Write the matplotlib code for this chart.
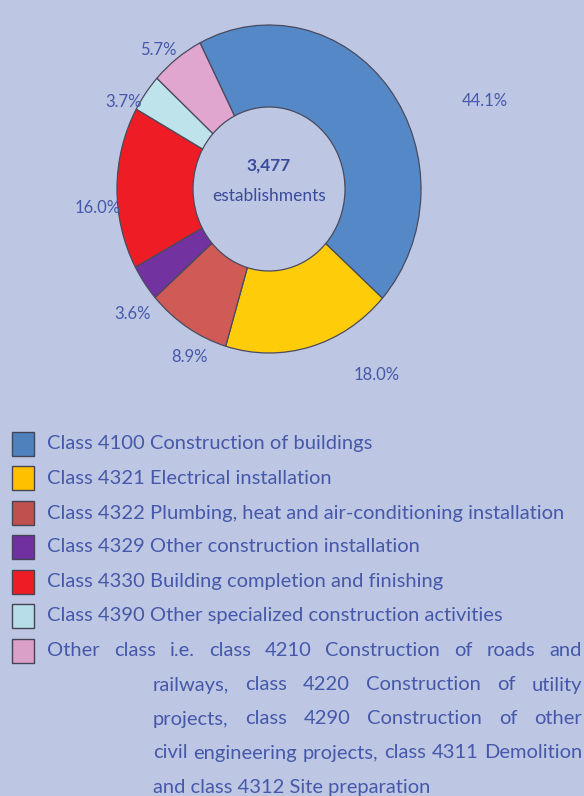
import matplotlib
matplotlib.use("Agg")
import matplotlib.pyplot as plt
from matplotlib.patches import Rectangle

shares = [44.1, 18.0, 8.9, 3.6, 16.0, 3.7, 5.7]
pct_labels = ["44.1%", "18.0%", "8.9%", "3.6%", "16.0%", "3.7%", "5.7%"]
colors = ["#5588c6", "#ffcc0a", "#d05a56", "#7232a0", "#ee1c24", "#bfe3ea", "#e0a6d0"]
legend_colors = ["#4f81bd", "#ffc000", "#c0504d", "#7030a0", "#ee1c24", "#b7dde8", "#dba0c8"]
legend_labels = [
    "Class 4100 Construction of buildings",
    "Class 4321 Electrical installation",
    "Class 4322 Plumbing, heat and air-conditioning installation",
    "Class 4329 Other construction installation",
    "Class 4330 Building completion and finishing",
    "Class 4390 Other specialized construction activities",
    "Other class i.e. class 4210 Construction of roads and",
]
other_lines = [
    "railways, class 4220 Construction of utility",
    "projects, class 4290 Construction of other",
    "civil engineering projects, class 4311 Demolition",
    "and class 4312 Site preparation",
]
total = "3,477"

bg = "#bdc7e3"
txt = "#4658aa"
W, H = 584, 796

fig = plt.figure(figsize=(W / 100, H / 100), dpi=100, facecolor=bg)
plt.rcParams["font.family"] = ["Lato", "DejaVu Sans"]

# donut, pixel box of the ring
ax = fig.add_axes([117 / W, 1 - 353 / H, 304 / W, 328 / H])
ax.set_facecolor(bg)
ax.axis("off")
wedges, _ = ax.pie(shares, colors=colors, startangle=117, counterclock=False,
                   radius=1, wedgeprops=dict(width=0.5, edgecolor="#4a4a5e", linewidth=0.9))
ax.set_xlim(-1, 1)
ax.set_ylim(-1, 1)
ax.set_aspect("auto")

# percent label spots in pixels
label_px = [(485, 101), (377, 375), (189, 357), (133, 314), (98, 208), (124, 102), (158, 50)]
for lab, (px, py) in zip(pct_labels, label_px):
    fig.text(px / W, 1 - py / H, lab, color=txt, fontsize=12, ha="center", va="center")

fig.text(269 / W, 1 - 166 / H, total, color="#3a4a9c", fontsize=12.5, ha="center",
         va="center", fontweight="bold")
fig.text(269 / W, 1 - 196 / H, "establishments", color="#3a4a9c", fontsize=12.5,
         ha="center", va="center")

fs = 14.5
renderer = fig.canvas.get_renderer()


def justified(line, x0, x1, y):
    # spread words so the line fills x0..x1 (pixels)
    words = line.split()
    items = [fig.text(0, 1 - y / H, w, color=txt, fontsize=fs, ha="left", va="center")
             for w in words]
    widths = [t.get_window_extent(renderer).width for t in items]
    gap = (x1 - x0 - sum(widths)) / (len(words) - 1)
    x = x0
    for t, w in zip(items, widths):
        t.set_x(x / W)
        x += w + gap


# legend
row_y = [444, 478, 513, 547, 582, 616, 651]
for k, (c, lab, y) in enumerate(zip(legend_colors, legend_labels, row_y)):
    fig.patches.append(Rectangle((12 / W, 1 - (y + 12) / H), 22 / W, 24 / H,
                                 transform=fig.transFigure, facecolor=c,
                                 edgecolor="#444455", linewidth=1))
    if k == len(legend_labels) - 1:
        justified(lab, 47, 582, y)
    else:
        fig.text(47 / W, 1 - y / H, lab, color=txt, fontsize=fs, ha="left", va="center")

for i, line in enumerate(other_lines):
    y = 685 + i * 34
    if i < len(other_lines) - 1:
        justified(line, 153, 582, y)
    else:
        fig.text(153 / W, 1 - y / H, line, color=txt, fontsize=fs, ha="left", va="center")

fig.savefig("out.png", dpi=100, facecolor=bg)
